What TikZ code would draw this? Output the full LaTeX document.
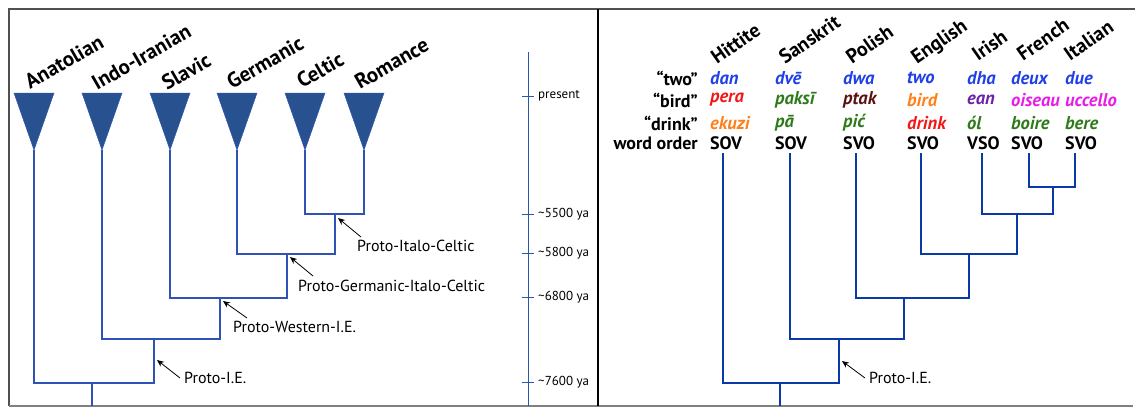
\documentclass[tikz,border=0pt]{standalone}
\usepackage{fontspec}
\setmainfont{PT Sans}
\usetikzlibrary{arrows.meta}
\definecolor{triblue}{HTML}{28528F}
\definecolor{thinblue}{HTML}{2F52B5}
\definecolor{thickblue}{HTML}{0B3AA8}
\definecolor{framegray}{HTML}{505050}
\definecolor{wblue}{HTML}{1F3FE8}
\definecolor{wred}{HTML}{F01818}
\definecolor{wgreen}{HTML}{2E7A1A}
\definecolor{wbrown}{HTML}{5A1212}
\definecolor{worange}{HTML}{FF7F1A}
\definecolor{wpurple}{HTML}{6A22A8}
\definecolor{wmag}{HTML}{E81CE8}
\tikzset{
  langname/.style={font=\bfseries\fontsize{21}{21}\selectfont, rotate=30, anchor=base west, inner sep=0pt},
  langnameR/.style={font=\bfseries\fontsize{20}{20}\selectfont, rotate=35, anchor=base west, inner sep=0pt},
  protolbl/.style={font=\fontsize{16}{17}\selectfont, anchor=west, inner sep=0pt},
  pointer/.style={-{Stealth[length=7pt,width=6pt]}, line width=0.8pt, black},
  axislbl/.style={font=\fontsize{13}{14}\selectfont, anchor=west, inner sep=0pt},
  thintree/.style={thinblue, line width=1.1pt, line join=miter},
  thicktree/.style={thickblue, line width=2.2pt, line join=miter},
  word/.style={font=\bfseries\itshape\fontsize{18.5}{19}\selectfont, anchor=west, inner sep=0pt},
  order/.style={font=\bfseries\fontsize{18}{19}\selectfont, anchor=west, inner sep=0pt},
  rowlbl/.style={font=\bfseries\fontsize{18}{19}\selectfont, anchor=east, inner sep=0pt},
  tri/.style={fill=triblue, draw=thinblue, line width=0.5pt},
}
\begin{document}
\begin{tikzpicture}[x=1pt,y=-1pt]
\useasboundingbox (0,0) rectangle (1135,408);
% ---------- frame ----------
\draw[framegray, line width=1.3pt] (9,406) -- (9,9) -- (1135,9);
\draw[gray, line width=1.3pt] (9,406) -- (1133,406);
\draw[black, line width=1.3pt] (598,9) -- (598,406);

% ---------- left panel: triangles ----------
\foreach \n/\x in {An/34, II/102, Sl/170, Ge/237, Ce/305, Ro/364}{
  \fill[tri] (\x-20,93) -- (\x+20,93) -- (\x,150) -- cycle;
  \coordinate (\n) at (\x,150);
}
\node[langname] (lAn) at (30,90) {Anatolian};
\node[langname] (lII) at (97,91) {Indo-Iranian};
\node[langname] (lSl) at (167,91) {Slavic};
\node[langname] (lGe) at (232,90) {Germanic};
\node[langname] (lCe) at (302,89) {Celtic};
\node[langname] (lRo) at (360,90) {Romance};

% ---------- left tree ----------
\coordinate (n1) at (335,214);
\coordinate (n2) at (287,254);
\coordinate (n3) at (220,298);
\coordinate (n4) at (154,339);
\coordinate (n5) at (92,383);
\coordinate (rootL) at (92,406);
\draw[thintree] (Ce) |- (n1) -| (Ro);
\draw[thintree] (Ge) |- (n2) -| (n1);
\draw[thintree] (Sl) |- (n3) -| (n2);
\draw[thintree] (II) |- (n4) -| (n3);
\draw[thintree] (An) |- (n5) -| (n4);
\draw[thintree] (n5) -- (rootL);

% ---------- left labels ----------
\node[protolbl] (pPIC) at (357,246) {Proto-Italo-Celtic};
\node[protolbl] (pPGIC) at (298,286) {Proto-Germanic-Italo-Celtic};
\node[protolbl] (pPW) at (233,327) {Proto-Western-I.E.};
\node[protolbl] (pPIE) at (184,378) {Proto-I.E.};
\coordinate (tPIC) at (361,237);  \coordinate (hPIC) at (338,218);
\coordinate (tPGIC) at (313,276); \coordinate (hPGIC) at (290,257);
\coordinate (tPW) at (247,318);   \coordinate (hPW) at (223,301);
\coordinate (tPIE) at (180,378);  \coordinate (hPIE) at (157,360);
\draw[pointer] (tPIC) -- (hPIC);
\draw[pointer] (tPGIC) -- (hPGIC);
\draw[pointer] (tPW) -- (hPW);
\draw[pointer] (tPIE) -- (hPIE);

% ---------- time axis ----------
\coordinate (axTop) at (528,52);
\coordinate (axBot) at (528,406);
\draw[thinblue, line width=1pt] (axTop) -- (axBot);
\foreach \y/\t/\nm in {96/present/a0, 214/{\textasciitilde5500 ya}/a1, 253/{\textasciitilde5800 ya}/a2, 297/{\textasciitilde6800 ya}/a3, 382/{\textasciitilde7600 ya}/a4}{
  \draw[thinblue, line width=1pt] (522,\y) -- (534,\y);
  \node[axislbl] (\nm) at (538,\y) {\t};
}

% ---------- right panel: names ----------
\node[langnameR] (rHi) at (717,65) {Hittite};
\node[langnameR] (rSa) at (785,65) {Sanskrit};
\node[langnameR] (rPo) at (852,65) {Polish};
\node[langnameR] (rEn) at (917,65) {English};
\node[langnameR] (rIr) at (978,62) {Irish};
\node[langnameR] (rFr) at (1023,62) {French};
\node[langnameR] (rIt) at (1070,62) {Italian};

% row labels
\node[rowlbl] (rowTwo) at (698,78) {“two”};
\node[rowlbl] (rowBird) at (698,100) {“bird”};
\node[rowlbl] (rowDrink) at (698,123) {“drink”};
\node[rowlbl] (rowOrder) at (698,143) {word order};

% words
\node[word, wblue] (w11) at (710,78) {dan};
\node[word, wblue] (w21) at (775,78) {dvē};
\node[word, wblue] (w31) at (843,78) {dwa};
\node[word, wblue] (w41) at (907,78) {two};
\node[word, wblue] (w51) at (967,78) {dha};
\node[word, wblue] (w61) at (1011,78) {deux};
\node[word, wblue] (w71) at (1065,78) {due};

\node[word, wred] (w12) at (710,100) {pera};
\node[word, wgreen] (w22) at (775,100) {paksī};
\node[word, wbrown] (w32) at (843,100) {ptak};
\node[word, worange] (w42) at (907,100) {bird};
\node[word, wpurple] (w52) at (967,100) {ean};
\node[word, wmag] (w62) at (1011,100) {oiseau};
\node[word, wmag] (w72) at (1065,100) {uccello};

\node[word, worange] (w13) at (710,123) {ekuzi};
\node[word, wgreen] (w23) at (775,123) {pā};
\node[word, wgreen] (w33) at (843,123) {pić};
\node[word, wred] (w43) at (907,123) {drink};
\node[word, wgreen] (w53) at (967,123) {ól};
\node[word, wgreen] (w63) at (1011,123) {boire};
\node[word, wgreen] (w73) at (1065,123) {bere};

\node[order] (o1) at (710,143) {SOV};
\node[order] (o2) at (775,143) {SOV};
\node[order] (o3) at (843,143) {SVO};
\node[order] (o4) at (907,143) {SVO};
\node[order] (o5) at (967,143) {VSO};
\node[order] (o6) at (1011,143) {SVO};
\node[order] (o7) at (1065,143) {SVO};

% ---------- right tree ----------
\coordinate (Hi) at (723,153);
\coordinate (Sa) at (790,153);
\coordinate (Po) at (856,153);
\coordinate (En) at (921,153);
\coordinate (Ir) at (982,153);
\coordinate (Fr) at (1029,153);
\coordinate (It) at (1075,153);
\coordinate (m1) at (1053,187);
\coordinate (m2) at (1017,214);
\coordinate (m3) at (969,254);
\coordinate (m4) at (904,298);
\coordinate (m5) at (839,339);
\coordinate (m6) at (780,383);
\coordinate (rootR) at (780,406);
\draw[thicktree] (Fr) |- (m1) -| (It);
\draw[thicktree] (Ir) |- (m2) -| (m1);
\draw[thicktree] (En) |- (m3) -| (m2);
\draw[thicktree] (Po) |- (m4) -| (m3);
\draw[thicktree] (Sa) |- (m5) -| (m4);
\draw[thicktree] (Hi) |- (m6) -| (m5);
\draw[thicktree] (m6) -- (rootR);

\node[protolbl] (pPIE2) at (869,378) {Proto-I.E.};
\coordinate (tPIE2) at (865,378); \coordinate (hPIE2) at (842,361);
\draw[pointer] (tPIE2) -- (hPIE2);
\end{tikzpicture}
\end{document}
